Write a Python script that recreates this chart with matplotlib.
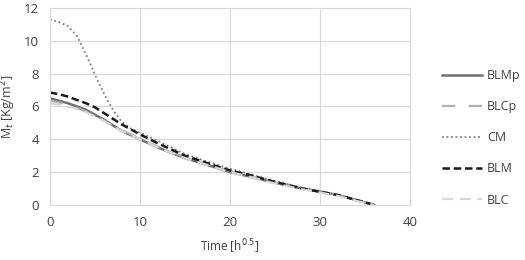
import matplotlib
matplotlib.use("Agg")
import matplotlib.pyplot as plt

x = [0, 1, 2, 3, 4, 5, 6, 7, 8, 9, 10, 12, 15, 18, 20, 22, 25, 28, 30, 32, 34, 36]
blmp = [6.5, 6.35, 6.2, 6.0, 5.8, 5.5, 5.2, 4.85, 4.5, 4.25, 4.0, 3.5, 2.85, 2.35, 2.0, 1.75, 1.35, 1.0, 0.8, 0.6, 0.3, 0.0]
blcp = [6.35, 6.25, 6.1, 5.9, 5.7, 5.45, 5.15, 4.85, 4.55, 4.3, 4.05, 3.55, 2.9, 2.4, 2.05, 1.8, 1.35, 1.0, 0.8, 0.6, 0.3, 0.0]
cm = [11.3, 11.15, 10.9, 10.3, 9.2, 7.95, 6.8, 5.8, 5.05, 4.65, 4.4, 3.9, 3.1, 2.55, 2.2, 1.9, 1.45, 1.05, 0.85, 0.6, 0.3, 0.0]
blm = [6.85, 6.75, 6.6, 6.4, 6.2, 5.95, 5.6, 5.25, 4.9, 4.6, 4.3, 3.75, 3.0, 2.45, 2.1, 1.85, 1.4, 1.0, 0.8, 0.6, 0.3, 0.0]
blc = [6.2, 6.1, 6.0, 5.85, 5.65, 5.4, 5.1, 4.8, 4.5, 4.25, 4.0, 3.5, 2.85, 2.35, 2.0, 1.75, 1.3, 0.95, 0.75, 0.55, 0.25, 0.0]

xticks = [0, 10, 20, 30, 40]
yticks = [0, 2, 4, 6, 8, 10, 12]

plt.rcParams['font.family'] = ['Open Sans', 'DejaVu Sans']
fig = plt.figure(figsize=(5.25, 2.6), dpi=100)
ax = fig.add_axes([0.095, 0.212, 0.686, 0.757])

l1, = ax.plot(x, blmp, color='#707070', lw=1.8, ls='-', label='BLMp')
l2, = ax.plot(x, blcp, color='#b0b0b0', lw=1.6, ls=(0, (6, 6)), label='BLCp')
l3, = ax.plot(x, cm, color='#808080', lw=1.3, ls=(0, (1, 1.5)), label='CM')
l4, = ax.plot(x, blm, color='#1a1a1a', lw=1.8, ls=(0, (3, 1.5)), label='BLM')
l5, = ax.plot(x, blc, color='#d8d8d8', lw=1.6, ls=(0, (5, 3)), label='BLC')

ax.set_xlim(0, 40)
ax.set_ylim(0, 12)
ax.set_xticks(xticks)
ax.set_yticks(yticks)
ax.grid(True, color='#d9d9d9', lw=0.8)
ax.set_axisbelow(True)
for s in ax.spines.values():
    s.set_color('#d9d9d9')
ax.tick_params(length=0, labelsize=9.5, colors='#404040', pad=8)
ax.set_xlabel('Time [h$^{0.5}$]', fontsize=8.5, color='#404040', labelpad=6)
ax.set_ylabel('M$_t$ [Kg/m$^2$]', fontsize=9, color='#404040', labelpad=4)

fig.legend(handles=[l1, l2, l3, l4, l5], loc='center left', bbox_to_anchor=(0.82, 0.47),
           frameon=False, fontsize=9, labelspacing=1.45, handlelength=3.2,
           handletextpad=0.4, labelcolor='#404040')

fig.savefig('out.png', dpi=100)
